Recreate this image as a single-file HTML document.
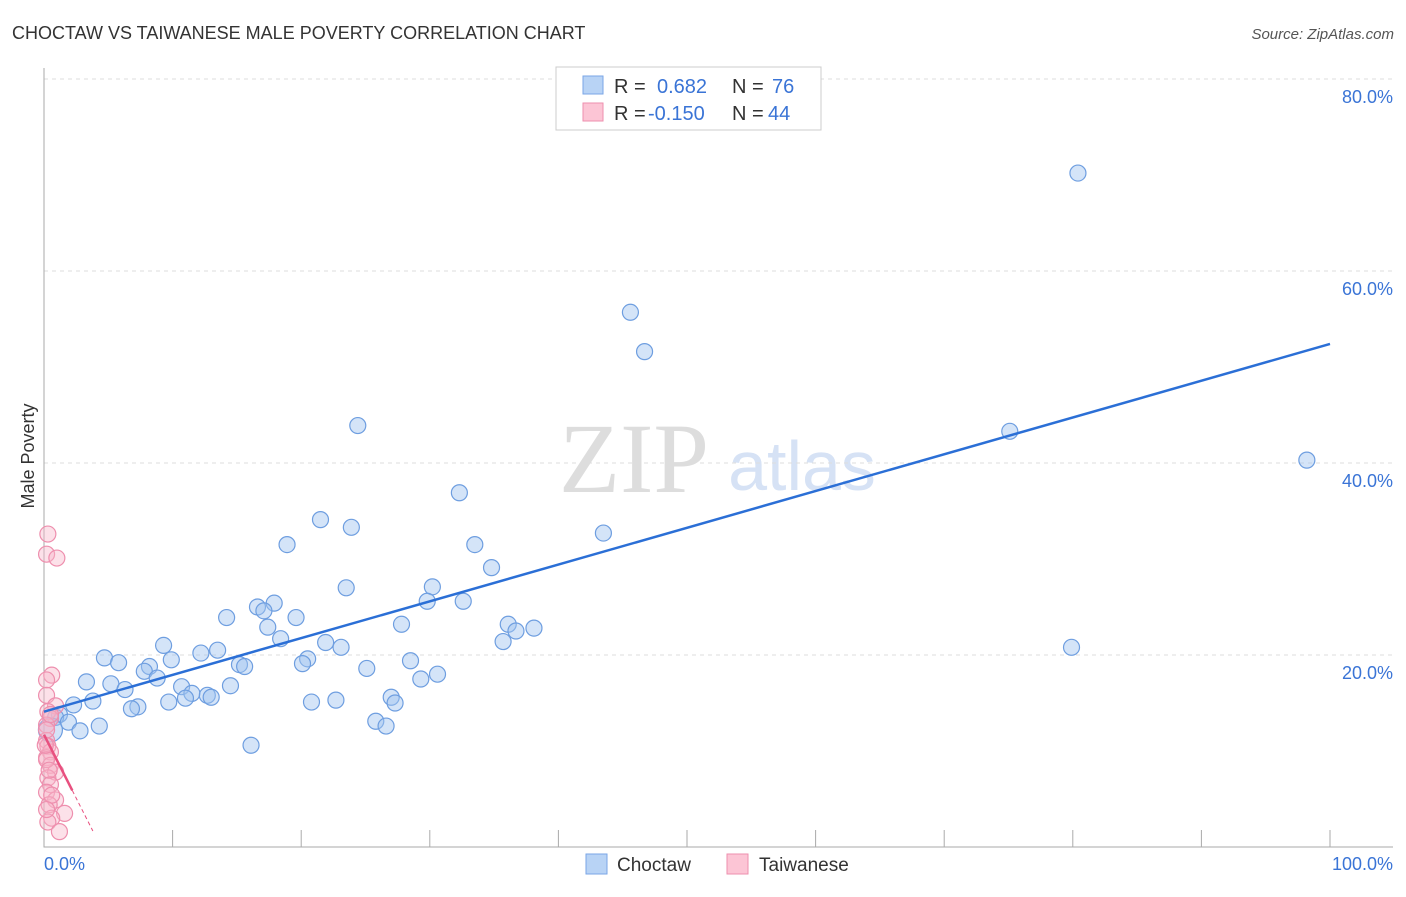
<!DOCTYPE html>
<html><head><meta charset="utf-8"><style>
body{margin:0;background:#fff;font-family:"Liberation Sans",sans-serif;}
</style></head><body>
<svg id="c" width="1406" height="892" xmlns="http://www.w3.org/2000/svg" font-family="Liberation Sans, sans-serif">
<text x="12" y="39" font-size="18" fill="#333">CHOCTAW VS TAIWANESE MALE POVERTY CORRELATION CHART</text>
<text x="1394" y="39" font-size="15" fill="#555" font-style="italic" text-anchor="end">Source: ZipAtlas.com</text>
<text x="634" y="492" font-size="100" fill="#ddd" style="font-family:'Liberation Serif',serif" text-anchor="middle">ZIP</text>
<text x="802" y="490" font-size="70" fill="#d6e2f5" text-anchor="middle">atlas</text>
<text transform="translate(34,456) rotate(-90)" font-size="18" fill="#333" text-anchor="middle">Male Poverty</text>
<g id="grid"></g><g id="ticks"></g><g id="pts"></g><g id="lines"></g>
<g>
<rect x="556" y="67" width="265" height="63" fill="#fff" stroke="#ccc"/>
<rect x="583" y="76" width="20" height="18" fill="#b8d3f5" stroke="#7aa6e6"/>
<rect x="583" y="103" width="20" height="18" fill="#fcc5d5" stroke="#ee8fae"/>
<text x="614" y="93" font-size="20" fill="#333">R =</text><text x="657" y="93" font-size="20" fill="#3a74d6">0.682</text>
<text x="732" y="93" font-size="20" fill="#333">N =</text><text x="772" y="93" font-size="20" fill="#3a74d6">76</text>
<text x="614" y="120" font-size="20" fill="#333">R =</text><text x="648" y="120" font-size="20" fill="#3a74d6">-0.150</text>
<text x="732" y="120" font-size="20" fill="#333">N =</text><text x="768" y="120" font-size="20" fill="#3a74d6">44</text>
</g>
<g>
<rect x="586" y="854" width="21" height="20" fill="#b8d3f5" stroke="#7aa6e6"/>
<text x="617" y="871" font-size="19" fill="#333">Choctaw</text>
<rect x="727" y="854" width="21" height="20" fill="#fcc5d5" stroke="#ee8fae"/>
<text x="759" y="871" font-size="19" fill="#333">Taiwanese</text>
</g>
<text x="44" y="870" font-size="18" fill="#3a74d6">0.0%</text>
<text x="1393" y="870" font-size="18" fill="#3a74d6" text-anchor="end">100.0%</text>
</svg>
<script>
const yTicks=[20,40,60,80];
const blueX=[80.4,45.6,46.7,75.1,98.2,24.4,32.3,21.5,23.9,43.5,18.9,33.5,34.8,23.5,30.2,29.8,32.6,17.9,16.6,17.1,14.2,19.6,27.8,36.1,38.1,36.7,17.4,18.4,35.7,21.9,23.1,9.3,13.5,12.2,79.9,4.7,5.8,9.9,20.5,20.1,28.5,8.2,15.2,15.6,7.8,25.1,30.6,8.8,29.3,3.3,5.2,6.3,14.5,10.7,11.5,12.7,13.0,11.0,27.0,27.3,20.8,22.7,9.7,3.8,2.3,7.3,6.8,1.2,0.9,1.9,4.3,2.8,25.8,26.6,16.1,0.5];
const blueY=[70.2,55.7,51.6,43.3,40.3,43.9,36.9,34.1,33.3,32.7,31.5,31.5,29.1,27.0,27.1,25.6,25.6,25.4,25.0,24.6,23.9,23.9,23.2,23.2,22.8,22.5,22.9,21.7,21.4,21.3,20.8,21.0,20.5,20.2,20.8,19.7,19.2,19.5,19.6,19.1,19.4,18.8,19.0,18.8,18.3,18.6,18.0,17.6,17.5,17.2,17.0,16.4,16.8,16.7,16.0,15.8,15.6,15.5,15.6,15.0,15.1,15.3,15.1,15.2,14.8,14.6,14.4,13.8,13.5,13.0,12.6,12.1,13.1,12.6,10.6,12.2];
const pinkX=[0.3,0.2,1.0,0.6,0.2,0.2,0.9,0.3,0.5,0.2,0.2,0.3,0.5,0.2,0.5,0.9,0.3,0.5,0.2,0.9,0.4,1.6,0.6,0.3,1.2,0.2,0.4,0.2,0.5,0.1,0.6,0.2];
const pinkY=[32.6,30.5,30.1,17.9,17.4,15.8,14.7,14.1,13.4,12.7,11.1,10.5,9.9,9.3,8.5,7.8,7.2,6.5,5.7,4.9,4.4,3.5,3.0,2.6,1.6,9.1,8.0,12.2,13.8,10.6,5.4,3.9];
const blueFit=[14.1,52.4];
const pinkFit=[11.7,-2.64];
const X=v=>44+v*12.86, Y=v=>847-v*9.6;
const NS="http://www.w3.org/2000/svg";
function mk(p,t,a){const e=document.createElementNS(NS,t);for(const k in a)e.setAttribute(k,a[k]);document.getElementById(p).appendChild(e);return e;}
yTicks.forEach(t=>{
 const g=mk('grid','line',{x1:44,x2:1393,y1:Y(t),y2:Y(t),stroke:'#ddd','stroke-dasharray':'4,4'});
 
 
 const l=mk('grid','text',{x:1393,y:Y(t)+24,'font-size':18,fill:'#3a74d6','text-anchor':'end'});
 l.textContent=t.toFixed(1)+'%';
 
 
});
const ax=mk('ticks','path',{d:`M44,68V847H1393`,stroke:'#aaa',fill:'none'});


for(let i=1;i<=10;i++){const t=mk('ticks','line',{x1:X(i*10),x2:X(i*10),y1:830,y2:847,stroke:'#aaa'});
 
 }
blueX.forEach((v,i)=>{const c=mk('pts','circle',{cx:X(v),cy:Y(blueY[i]),r:i==blueX.length-1?12:8,fill:'rgba(160,196,240,0.45)',stroke:'#6e9ee0','stroke-width':1.2});
 
 });
pinkX.forEach((v,i)=>{const c=mk('pts','circle',{cx:X(v),cy:Y(pinkY[i]),r:8,fill:'rgba(248,180,200,0.4)',stroke:'#ee8fae','stroke-width':1.2});
 
 });
const bl=mk('lines','line',{x1:X(0),y1:Y(blueFit[0]),x2:X(100),y2:Y(blueFit[1]),stroke:'#2b6fd6','stroke-width':2.5});


const pf=x=>pinkFit[0]+pinkFit[1]*x;
const pl=mk('lines','line',{x1:X(0),y1:Y(pf(0)),x2:X(2.2),y2:Y(pf(2.2)),stroke:'#e8507f','stroke-width':2.5});


const pd=mk('lines','line',{x1:X(2.2),y1:Y(pf(2.2)),x2:X(3.8),y2:Y(pf(3.8)),stroke:'#e8507f','stroke-width':1,'stroke-dasharray':'4,3'});


</script>
</body></html>
